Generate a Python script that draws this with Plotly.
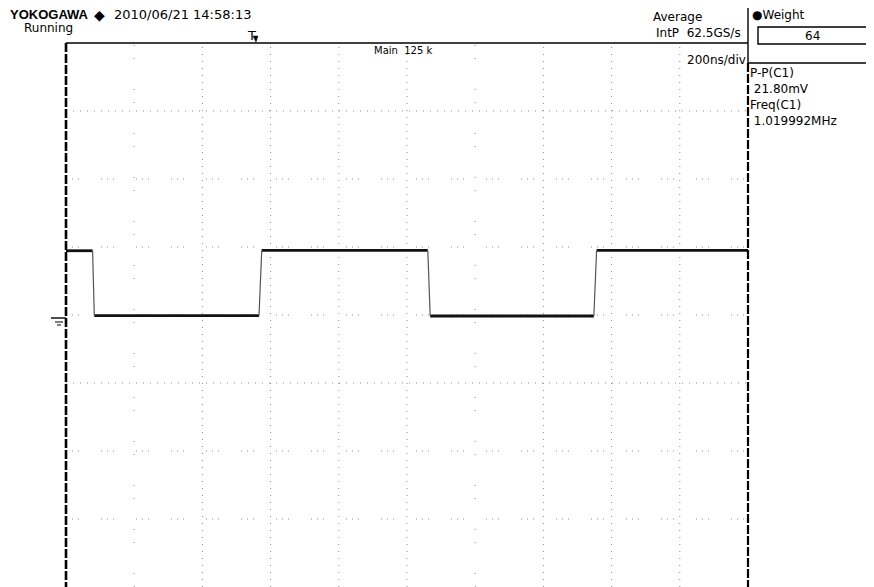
import plotly.graph_objects as go

# ---- data ----
time_ns = [0, 78, 83, 566, 574, 1061, 1068, 1548, 1556, 2000]
volt_mV = [18.9, 18.9, -0.2, -0.2, 19.0, 19.0, -0.3, -0.3, 19.0, 19.0]

x_grid_ns = [200, 400, 600, 800, 1000, 1200, 1400, 1600, 1800]
x_grid_dense = [False, True, True, True, True, False, True, True, True]
y_grid_mV = [60, 40, 20, 0, -20, -40, -60]
y_grid_dense = [True, False, False, False, True, False, False]

header_left = "2010/06/21 14:58:13"
status_text = "Running"
acq_mode = "Average"
sample_rate = "IntP  62.5GS/s"
timebase = "200ns/div"
record = "Main  125 k"
weight_value = "64"
meas_lines = ["P-P(C1)", " 21.80mV", "Freq(C1)", " 1.019992MHz"]

# ---- layout geometry (screen pixels; page body adds an 8px offset) ----
OFF = 8
W, H = 874 - OFF, 587 - OFF
L, R, T, B = 66 - OFF, 748 - OFF, 43 - OFF, 587 - OFF


def px(x):
    return (x - OFF - L) / (R - L)


def py(y):
    return (B - (y - OFF)) / (B - T)


fig = go.Figure()

# flat parts of the trace
lx, ly = [], []
for i in range(0, len(time_ns) - 1, 2):
    lx += [time_ns[i], time_ns[i + 1], None]
    ly += [volt_mV[i], volt_mV[i + 1], None]
fig.add_trace(go.Scatter(x=lx, y=ly, mode="lines",
                         line=dict(color="#111111", width=2.8),
                         hoverinfo="skip", showlegend=False))
# edges of the trace
ex, ey = [], []
for i in range(1, len(time_ns) - 1, 2):
    ex += [time_ns[i], time_ns[i + 1], None]
    ey += [volt_mV[i], volt_mV[i + 1], None]
fig.add_trace(go.Scatter(x=ex, y=ey, mode="lines",
                         line=dict(color="#555555", width=1.2),
                         hoverinfo="skip", showlegend=False))

shapes = []
for xv, d in zip(x_grid_ns, x_grid_dense):
    shapes.append(dict(type="line", xref="x", yref="y domain", x0=xv, x1=xv, y0=0, y1=1,
                       layer="below",
                       line=dict(color="#8c8c8c", width=1,
                                 dash="1px,6px" if d else "1px,12px,1px,30px")))
for yv, d in zip(y_grid_mV, y_grid_dense):
    shapes.append(dict(type="line", xref="x domain", yref="y", x0=0, x1=1, y0=yv, y1=yv,
                       layer="below",
                       line=dict(color="#8c8c8c", width=1,
                                 dash="1px,6px" if d else "1px,5px,1px,5px,1px,22px")))


def pline(x0, y0, x1, y1, width=1.2, color="black", dash="solid"):
    shapes.append(dict(type="line", xref="paper", yref="paper",
                       x0=px(x0), y0=py(y0), x1=px(x1), y1=py(y1),
                       line=dict(color=color, width=width, dash=dash)))

# borders
pline(66, 43, 748, 43, 1.4)
pline(66, 43, 66, 590, 2.6, dash="9px,2px")
pline(748, 63, 748, 590, 2.2, dash="9px,2px")
pline(748, OFF - 1, 748, 63, 1.4)
pline(748, 63, 874, 63, 1.4)
# weight box
shapes.append(dict(type="rect", xref="paper", yref="paper",
                   x0=px(758), x1=px(867), y0=py(44), y1=py(27),
                   line=dict(color="black", width=1.4)))
# ground marker
pline(51, 318, 66, 318, 1.4)
pline(55, 322, 63, 322, 1)
pline(57, 325, 61, 325, 1)
# trigger marker
shapes.append(dict(type="path", xref="paper", yref="paper",
                   path=f"M {px(253)} {py(36)} L {px(258)} {py(36)} L {px(256)} {py(42)} Z",
                   fillcolor="black", line=dict(color="black", width=0.5)))

FONT = "DejaVu Sans"
ann = []


def text(x, y, s, size=12, xanchor="left", family=FONT, color="black"):
    ann.append(dict(x=px(x), y=py(y), xref="paper", yref="paper", text=s,
                    showarrow=False, xanchor=xanchor, yanchor="middle",
                    font=dict(family=family, size=size, color=color)))

text(8, 15, "<b>YOKOGAWA</b>", 13, family="Liberation Sans")
text(92, 15, "◆", 14)
text(112, 15, header_left, 13)
text(22, 28, status_text, 12)
text(245, 35, "T", 13)
text(372, 51, record, 10)
text(651, 17, acq_mode, 12)
text(743, 33, sample_rate, 12, xanchor="right")
text(748, 60, timebase, 12, xanchor="right")
text(750, 15, "●Weight", 12)
text(813, 36, weight_value, 12, xanchor="center")
for i, s in enumerate(meas_lines):
    text(748, 73 + 16 * i, s, 12)

fig.update_layout(
    width=W, height=H,
    margin=dict(l=L, r=W - R, t=T, b=H - B, pad=0),
    paper_bgcolor="white", plot_bgcolor="white",
    shapes=shapes, annotations=ann,
    xaxis=dict(range=[0, 2000], showgrid=False, zeroline=False, showticklabels=False,
               ticks="", showline=False, fixedrange=True),
    yaxis=dict(range=[-80, 80], showgrid=False, zeroline=False, showticklabels=False,
               ticks="", showline=False, fixedrange=True),
)

fig.write_html("out.html")
